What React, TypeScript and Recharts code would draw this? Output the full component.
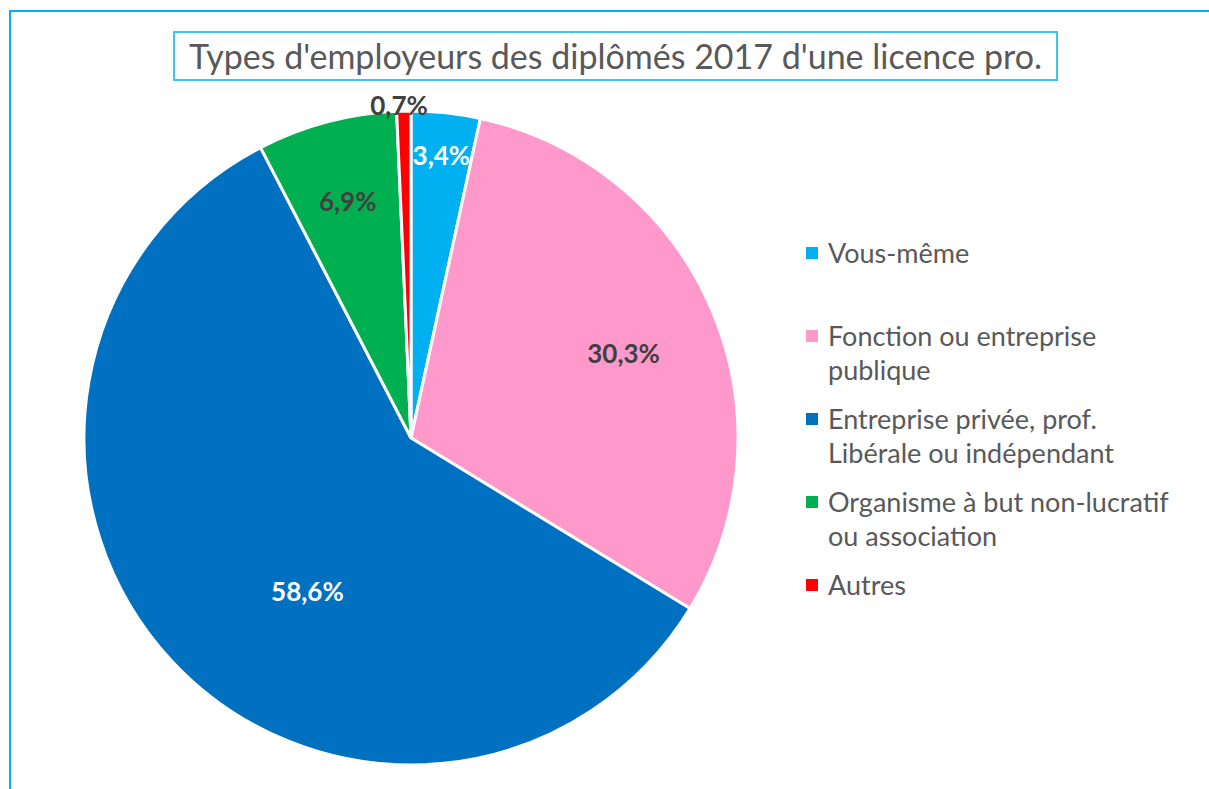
import { PieChart, Pie, Cell, Legend } from "recharts";

const categories = [
  "Vous-même",
  "Fonction ou entreprise publique",
  "Entreprise privée, prof. Libérale ou indépendant",
  "Organisme à but non-lucratif ou association",
  "Autres",
];
const values = [3.4, 30.3, 58.6, 6.9, 0.7];
const colors = ["#00B0F0", "#FF99CC", "#0070C0", "#00B050", "#FF0000"];
const legendLines = [
  ["Vous-même"],
  ["Fonction ou entreprise", "publique"],
  ["Entreprise privée, prof.", "Libérale ou indépendant"],
  ["Organisme à but non-lucratif", "ou association"],
  ["Autres"],
];
const title = "Types d'employeurs des diplômés 2017 d'une licence pro.";

// label placement like Excel's "best fit": radius ratio + angle shift (deg)
const labelPlace = [
  { r: 0.87, da: 0, fill: "#FFFFFF" },
  { r: 0.7, da: -1.4, fill: "#404040" },
  { r: 0.566, da: 13, fill: "#FFFFFF" },
  { r: 0.75, da: 0, fill: "#404040" },
  { r: 1.02, da: 0.8, fill: "#404040" },
];

const data = categories.map((name, i) => ({ name, value: values[i] }));
const FONT = "Lato, 'Open Sans', sans-serif";
const RAD = Math.PI / 180;

const renderLabel = (props: any) => {
  const { cx, cy, outerRadius, midAngle, index, value } = props;
  const p = labelPlace[index];
  const a = (midAngle + p.da) * RAD;
  const x = cx + outerRadius * p.r * Math.cos(a);
  const y = cy - outerRadius * p.r * Math.sin(a);
  return (
    <text
      x={x}
      y={y}
      fill={p.fill}
      textAnchor="middle"
      dominantBaseline="central"
      fontFamily={FONT}
      fontWeight="bold"
      fontSize={26}>
      {value.toFixed(1).replace(".", ",")}%
    </text>
  );
};

const renderLegend = () => (
  <div style={{ fontFamily: FONT, fontSize: 27, color: "#595959" }}>
    {legendLines.map((lines, i) => (
      <div key={i} style={{ position: "relative", height: 83, lineHeight: "34px" }}>
        <span
          style={{
            position: "absolute",
            left: 0,
            top: 11,
            width: 12,
            height: 12,
            background: colors[i],
          }}
        />
        <div style={{ marginLeft: 22, whiteSpace: "nowrap" }}>
          {lines.map((l) => (
            <div key={l}>{l}</div>
          ))}
        </div>
      </div>
    ))}
  </div>
);

export default function App() {
  return (
    <div
      style={{
        position: "absolute",
        left: 0,
        top: 0,
        width: 1209,
        height: 789,
        background: "#FFFFFF",
        overflow: "hidden",
      }}>
      <div
        style={{
          position: "absolute",
          left: 9,
          top: 10,
          width: 1300,
          height: 900,
          borderTop: "2px solid #00B0F0",
          borderLeft: "2px solid #00B0F0",
        }}
      />
      <div
        style={{
          position: "absolute",
          left: 173,
          top: 31,
          width: 881,
          height: 46,
          border: "2px solid #3FC1F2",
          fontFamily: FONT,
          fontSize: 34,
          color: "#595959",
          textAlign: "center",
          lineHeight: "46px",
          whiteSpace: "nowrap",
          zIndex: 2,
        }}>
        {title}
      </div>
      <PieChart
        width={1209}
        height={789}
        margin={{ top: 0, right: 0, bottom: 0, left: 0 }}
        style={{ position: "absolute", left: 0, top: 0 }}>
        <Pie
          data={data}
          dataKey="value"
          nameKey="name"
          cx={411}
          cy={438}
          outerRadius={327}
          startAngle={90}
          endAngle={-270}
          stroke="#FFFFFF"
          strokeWidth={3}
          label={renderLabel}
          labelLine={false}
          isAnimationActive={false}>
          {data.map((d, i) => (
            <Cell key={d.name} fill={colors[i]} />
          ))}
        </Pie>
        <Legend
          content={renderLegend}
          layout="vertical"
          wrapperStyle={{ position: "absolute", left: 806, top: 236, width: 400 }}
        />
      </PieChart>
    </div>
  );
}
